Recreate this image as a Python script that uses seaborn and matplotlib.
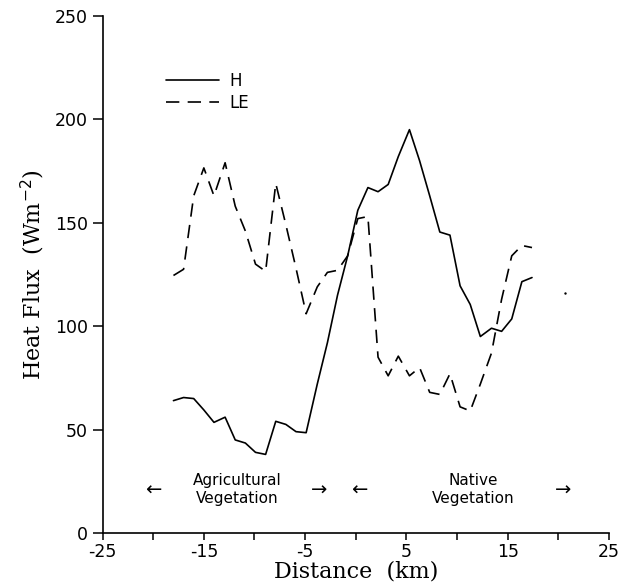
import matplotlib
matplotlib.use("Agg")
import matplotlib.pyplot as plt
from matplotlib.ticker import MultipleLocator
import seaborn as sns
import pandas as pd

# distance along transect (km)
distance = [-18.0, -17.0, -16.0, -15.0, -14.0, -12.9, -11.9, -10.9, -9.9, -8.9,
            -7.9, -6.9, -5.9, -4.9, -3.8, -2.8, -1.8, -0.8, 0.2, 1.2,
            2.2, 3.2, 4.2, 5.3, 6.3, 7.3, 8.3, 9.3, 10.3, 11.3,
            12.3, 13.4, 14.4, 15.4, 16.4, 17.4]

# sensible heat flux H (W m-2)
h_flux = [64, 65.5, 65, 59.5, 53.5, 56, 45, 43.5, 39, 38,
          54, 52.5, 49, 48.5, 72, 92, 115, 134, 156, 167,
          165, 168.5, 182, 195, 180, 163, 145.5, 144, 119.5, 110.5,
          95, 99, 97.5, 103.5, 121.5, 123.5]

# latent heat flux LE (W m-2)
le_flux = [124.5, 127.5, 163, 176.5, 163, 179, 158, 146, 130, 126.5,
           169, 149, 128, 106, 119, 126, 127, 134, 152, 153,
           85, 76, 85.5, 76, 80, 68, 67, 77, 61, 59,
           72, 87, 113, 134, 139, 138]

# lone H sample further east
lone_x = [20.7]
lone_y = [116]

df = pd.concat([
    pd.DataFrame({"Distance": distance, "Flux": h_flux, "kind": "H"}),
    pd.DataFrame({"Distance": distance, "Flux": le_flux, "kind": "LE"}),
])

sns.set_style("ticks")
plt.rcParams["font.family"] = ["DejaVu Sans"]
plt.rcParams["axes.unicode_minus"] = False
for k in ["text.color", "axes.labelcolor", "xtick.color", "ytick.color", "axes.edgecolor"]:
    plt.rcParams[k] = "black"

fig = plt.figure(figsize=(6.37, 5.88), dpi=100)
ax = fig.add_axes([0.161, 0.0935, 0.795, 0.8795])

sns.lineplot(data=df, x="Distance", y="Flux", style="kind",
             dashes={"H": "", "LE": (8, 5)}, color="black", linewidth=1.2,
             estimator=None, sort=False, ax=ax)
sns.scatterplot(x=lone_x, y=lone_y, color="black", s=3, linewidth=0,
                legend=False, ax=ax)

ax.set_xlim(-25, 25)
ax.set_ylim(0, 250)
ax.xaxis.set_minor_locator(MultipleLocator(5))
ax.yaxis.set_major_locator(MultipleLocator(50))
ax.set_xticks([-25, -15, -5, 5, 15, 25])
ax.tick_params(axis="x", which="both", length=5, width=1.1, labelsize=12.5,
               direction="out", pad=2)
ax.tick_params(axis="y", length=7, width=1.1, labelsize=12.5, direction="out")
sns.despine(ax=ax)
for s in ["left", "bottom"]:
    ax.spines[s].set_linewidth(1.2)

ax.set_xlabel("Distance  (km)", family="DejaVu Serif", fontsize=16, labelpad=0)
ax.set_ylabel("Heat Flux  (Wm$^{-2}$)", family="DejaVu Serif", fontsize=16,
              labelpad=6)

handles, labels = ax.get_legend_handles_labels()
ax.legend(handles, labels, loc="upper left", bbox_to_anchor=(0.112, 0.905),
          frameon=False, fontsize=12, handlelength=3.2, labelspacing=0.25,
          handletextpad=0.6, borderaxespad=0)

txt = dict(ha="center", va="center", fontsize=11, linespacing=1.25)
ax.text(-11.7, 21, "Agricultural\nVegetation", **txt)
ax.text(11.6, 21, "Native\nVegetation", **txt)
for x, arrow in [(-20.0, "\u2190"), (-3.6, "\u2192"), (0.3, "\u2190"), (20.5, "\u2192")]:
    ax.text(x, 20.5, arrow, ha="center", va="center", fontsize=14)

fig.savefig("out.png", dpi=100)
